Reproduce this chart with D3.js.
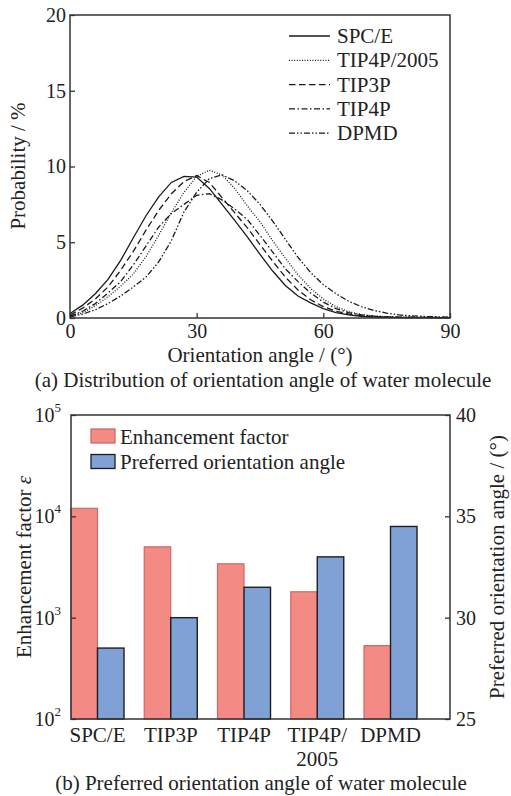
<!DOCTYPE html>
<html>
<head>
<meta charset="utf-8">
<script src="https://cdn.jsdelivr.net/npm/d3@7"></script>
<style>
body { margin: 0; background: #fff; }
svg text { font-family: "Liberation Serif", "Times New Roman", serif; fill: #222; }
</style>
</head>
<body>
<svg id="chart" width="511" height="796"></svg>
<script>
// (a) orientation angle distribution, sampled every 3 degrees
const angleDeg = [0,3,6,9,12,15,18,21,24,27,30,33,36,39,42,45,48,51,54,57,60,63,66,69,72,75,78,81,84,87,90];
const spce    = [0.3,0.85,1.6,2.55,3.8,5.3,6.75,8.0,8.95,9.35,9.3,8.55,7.5,6.45,5.35,4.2,3.1,2.15,1.45,1.0,0.62,0.36,0.2,0.11,0.06,0.04,0.03,0.02,0.02,0.01,0.01];
const tip4p2005 = [0.1,0.35,0.8,1.4,2.1,2.9,4.05,5.45,6.95,8.3,9.35,9.75,9.45,8.55,7.4,6.35,5.1,3.95,2.85,1.95,1.25,0.75,0.42,0.23,0.13,0.08,0.06,0.05,0.04,0.03,0.03];
const tip3p   = [0.2,0.65,1.25,2.05,3.15,4.4,5.8,7.1,8.2,9.0,9.4,8.95,7.95,6.95,5.95,4.85,3.75,2.7,1.85,1.2,0.75,0.45,0.26,0.15,0.09,0.06,0.04,0.03,0.03,0.02,0.02];
const tip4p   = [0.12,0.45,0.95,1.65,2.4,3.5,4.75,6.0,6.9,7.5,8.1,8.2,7.8,7.2,6.5,5.45,4.35,3.25,2.4,1.65,1.05,0.62,0.35,0.2,0.12,0.08,0.06,0.05,0.04,0.04,0.03];
const dpmd    = [0.08,0.25,0.55,0.95,1.45,2.05,2.7,3.7,5.1,7.0,8.3,9.2,9.45,9.05,8.4,7.5,6.4,5.2,4.0,3.0,2.2,1.6,1.1,0.75,0.5,0.32,0.2,0.14,0.1,0.08,0.06];

const seriesNames = ['SPC/E', 'TIP4P/2005', 'TIP3P', 'TIP4P', 'DPMD'];
const seriesValues = [spce, tip4p2005, tip3p, tip4p, dpmd];
const seriesDash = ['none', '1,1.6', '6.5,3.5', '6,2.5,1.5,2.5', '6,2,1.5,2,1.5,2'];

const xTicksA = [0, 30, 60, 90];
const yTicksA = [0, 5, 10, 15, 20];

// (b) enhancement factor and preferred angle
const models = ['SPC/E', 'TIP3P', 'TIP4P', 'TIP4P/2005', 'DPMD'];
const enhancement = [12000, 5000, 3400, 1800, 530];
const preferredAngle = [28.5, 30.0, 31.5, 33.0, 34.5];
const yTicksLog = [1e2, 1e3, 1e4, 1e5];
const yTicksAngle = [25, 30, 35, 40];

const svg = d3.select('#chart');
const ink = '#333';

// ---------- panel (a) ----------
const x = d3.scaleLinear().domain([0, 90]).range([70, 450]);
const y = d3.scaleLinear().domain([0, 20]).range([318, 15]);

const gA = svg.append('g');

gA.append('g')
    .attr('transform', 'translate(0,318)')
    .call(d3.axisBottom(x).tickValues(xTicksA).tickSize(-5).tickPadding(6))
    .call(g => g.select('.domain').remove())
    .call(g => g.selectAll('line').attr('stroke', ink).attr('stroke-width', 1.3))
    .call(g => g.selectAll('text').attr('font-size', 20).attr('fill', '#222'));

gA.append('g')
    .attr('transform', 'translate(70,0)')
    .call(d3.axisLeft(y).tickValues(yTicksA).tickSize(-5).tickPadding(4))
    .call(g => g.select('.domain').remove())
    .call(g => g.selectAll('line').attr('stroke', ink).attr('stroke-width', 1.3))
    .call(g => g.selectAll('text').attr('font-size', 20).attr('fill', '#222'));

const line = d3.line()
    .x((d, i) => x(angleDeg[i]))
    .y(d => y(d));

gA.selectAll('path.curve').data(seriesValues)
    .enter().append('path')
    .attr('class', 'curve')
    .attr('d', line)
    .attr('fill', 'none')
    .attr('stroke', '#1a1a1a')
    .attr('stroke-width', 1.3)
    .attr('stroke-dasharray', (d, i) => seriesDash[i]);

gA.append('rect')
    .attr('x', 70).attr('y', 15).attr('width', 380).attr('height', 303)
    .attr('fill', 'none').attr('stroke', ink).attr('stroke-width', 1.5);

const legA = gA.append('g').selectAll('g').data(seriesNames)
    .enter().append('g')
    .attr('transform', (d, i) => `translate(289,${43 + i * 24.3})`);
legA.append('line')
    .attr('x1', 0).attr('x2', 41).attr('y1', -7).attr('y2', -7)
    .attr('stroke', '#1a1a1a').attr('stroke-width', 1.3)
    .attr('stroke-dasharray', (d, i) => seriesDash[i]);
legA.append('text')
    .attr('x', 48).attr('font-size', 21)
    .text(d => d);

gA.append('text')
    .attr('transform', 'translate(25,166) rotate(-90)')
    .attr('text-anchor', 'middle').attr('font-size', 21)
    .text('Probability / %');

gA.append('text')
    .attr('x', 260).attr('y', 362)
    .attr('text-anchor', 'middle').attr('font-size', 21)
    .text('Orientation angle / (°)');

gA.append('text')
    .attr('x', 263).attr('y', 387)
    .attr('text-anchor', 'middle').attr('font-size', 21)
    .text('(a) Distribution of orientation angle of water molecule');

// ---------- panel (b) ----------
const xb = d3.scaleBand().domain(models).range([71, 417]).paddingInner(0.2765).paddingOuter(0);
const barW = xb.bandwidth() / 2;
const yL = d3.scaleLog().domain([1e2, 1e5]).range([719, 415]);
const yR = d3.scaleLinear().domain([25, 40]).range([719, 415]);

const gB = svg.append('g');

gB.selectAll('rect.enh').data(enhancement)
    .enter().append('rect')
    .attr('class', 'enh')
    .attr('x', (d, i) => xb(models[i]))
    .attr('y', d => yL(d))
    .attr('width', barW)
    .attr('height', d => yL(1e2) - yL(d))
    .attr('fill', '#F38A84')
    .attr('stroke', '#C86A6A')
    .attr('stroke-width', 1.2);

gB.selectAll('rect.ang').data(preferredAngle)
    .enter().append('rect')
    .attr('class', 'ang')
    .attr('x', (d, i) => xb(models[i]) + barW)
    .attr('y', d => yR(d))
    .attr('width', barW)
    .attr('height', d => yR(25) - yR(d))
    .attr('fill', '#7FA1D6')
    .attr('stroke', '#1e1e1e')
    .attr('stroke-width', 1.4);

gB.append('g')
    .attr('transform', 'translate(71,0)')
    .call(d3.axisLeft(yL).tickValues(yTicksLog).tickSize(-5).tickPadding(10).tickFormat(''))
    .call(g => g.select('.domain').remove())
    .call(g => g.selectAll('line').attr('stroke', ink).attr('stroke-width', 1.3))
    .call(g => g.selectAll('.tick text').each(function(d) {
        const t = d3.select(this).attr('font-size', 20).attr('fill', '#222');
        t.append('tspan').text('10');
        t.append('tspan').attr('font-size', 13).attr('dy', '-0.75em').text(Math.round(Math.log10(d)));
    }));

gB.append('g')
    .attr('transform', 'translate(450,0)')
    .call(d3.axisRight(yR).tickValues(yTicksAngle).tickSize(-5).tickPadding(6))
    .call(g => g.select('.domain').remove())
    .call(g => g.selectAll('line').attr('stroke', ink).attr('stroke-width', 1.3))
    .call(g => g.selectAll('text').attr('font-size', 20).attr('fill', '#222'));

// category labels; the two-line one gets its own text lines
const xAxisB = gB.append('g')
    .attr('transform', 'translate(0,719)')
    .call(d3.axisBottom(xb).tickSize(0).tickPadding(8).tickFormat(''))
    .call(g => g.select('.domain').remove());
xAxisB.selectAll('.tick').each(function(d) {
    const tick = d3.select(this);
    tick.select('text').remove();
    const parts = d === 'TIP4P/2005' ? ['TIP4P/', '2005'] : [d];
    parts.forEach((p, i) => {
        tick.append('text')
            .attr('y', 23 + i * 23.5)
            .attr('text-anchor', 'middle')
            .attr('font-size', 21)
            .text(p);
    });
});

gB.append('rect')
    .attr('x', 71).attr('y', 415).attr('width', 379).attr('height', 304)
    .attr('fill', 'none').attr('stroke', ink).attr('stroke-width', 1.5);

const legB = [
    { label: 'Enhancement factor', fill: '#F38A84', stroke: '#C86A6A' },
    { label: 'Preferred orientation angle', fill: '#7FA1D6', stroke: '#1e1e1e' }
];
const legBg = gB.append('g').selectAll('g').data(legB)
    .enter().append('g')
    .attr('transform', (d, i) => `translate(91,${429 + i * 25.5})`);
legBg.append('rect')
    .attr('width', 24).attr('height', 14)
    .attr('fill', d => d.fill).attr('stroke', d => d.stroke).attr('stroke-width', 1.3);
legBg.append('text')
    .attr('x', 29).attr('y', 14.5).attr('font-size', 21)
    .text(d => d.label);

const leftTitle = gB.append('text')
    .attr('transform', 'translate(31,567) rotate(-90)')
    .attr('text-anchor', 'middle').attr('font-size', 21);
leftTitle.append('tspan').text('Enhancement factor ');
leftTitle.append('tspan').attr('font-style', 'italic').text('ε');

gB.append('text')
    .attr('transform', 'translate(504,567) rotate(-90)')
    .attr('text-anchor', 'middle').attr('font-size', 21)
    .text('Preferred orientation angle / (°)');

gB.append('text')
    .attr('x', 261).attr('y', 789.5)
    .attr('text-anchor', 'middle').attr('font-size', 21)
    .text('(b) Preferred orientation angle of water molecule');
</script>
</body>
</html>
